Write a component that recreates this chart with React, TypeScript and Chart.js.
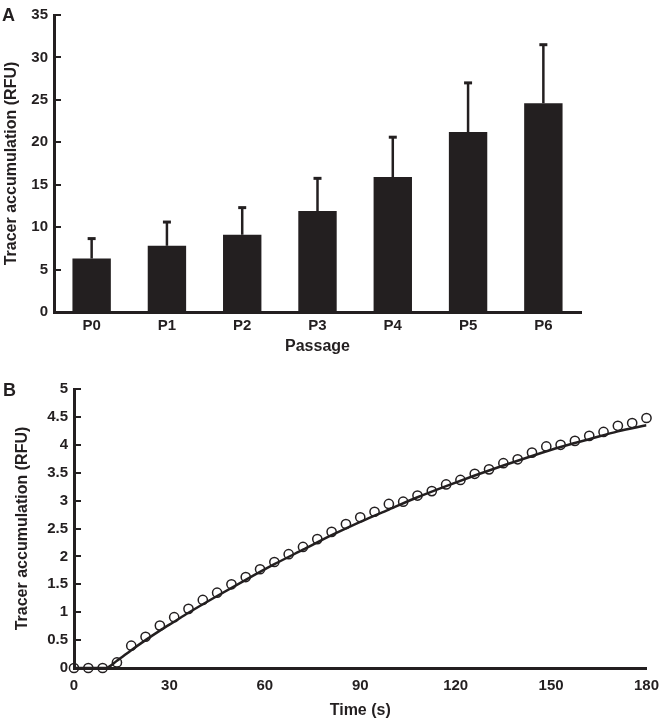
import React, { useEffect, useRef } from "react";
import { Chart, registerables } from "chart.js";

Chart.register(...registerables);

const INK = "#231f20";
const FONT = "'Liberation Sans', Arial, Helvetica, sans-serif";

// Panel A
const passages = ["P0", "P1", "P2", "P3", "P4", "P5", "P6"];
const accumMean = [6.3, 7.8, 9.1, 11.9, 15.9, 21.2, 24.6];
const accumErr = [2.35, 2.8, 3.2, 3.85, 4.7, 5.8, 6.9];
const yTicksA = [0, 5, 10, 15, 20, 25, 30, 35];

// Panel B
const timeS = [0, 4.5, 9, 13.5, 18, 22.5, 27, 31.5, 36, 40.5, 45, 49.5, 54, 58.5, 63, 67.5, 72, 76.5, 81, 85.5, 90, 94.5, 99, 103.5, 108, 112.5, 117, 121.5, 126, 130.5, 135, 139.5, 144, 148.5, 153, 157.5, 162, 166.5, 171, 175.5, 180];
const observed = [0, 0, 0, 0.1, 0.4, 0.56, 0.76, 0.91, 1.06, 1.22, 1.35, 1.5, 1.63, 1.77, 1.9, 2.04, 2.17, 2.31, 2.44, 2.58, 2.7, 2.8, 2.94, 2.98, 3.09, 3.17, 3.29, 3.37, 3.48, 3.56, 3.67, 3.74, 3.86, 3.97, 4.0, 4.07, 4.16, 4.23, 4.34, 4.39, 4.48];
const fitTime = [0, 10, 13.5, 18, 22.5, 27, 31.5, 36, 45, 54, 63, 72, 81, 90, 99, 108, 117, 126, 135, 144, 153, 162, 171, 180];
const fitValue = [0, 0, 0.13, 0.32, 0.5, 0.67, 0.83, 0.99, 1.29, 1.58, 1.86, 2.12, 2.38, 2.62, 2.84, 3.06, 3.26, 3.45, 3.63, 3.8, 3.96, 4.1, 4.24, 4.35];
const yTicksB = [0, 0.5, 1, 1.5, 2, 2.5, 3, 3.5, 4, 4.5, 5];
const xTicksB = [0, 30, 60, 90, 120, 150, 180];

const inwardTicks = {
  id: "inwardTicks",
  afterDraw(chart: any) {
    const y = chart.scales.y;
    const ctx = chart.ctx;
    const left = chart.chartArea.left;
    ctx.save();
    ctx.strokeStyle = INK;
    ctx.lineWidth = 2;
    y.ticks.forEach((t: any) => {
      const py = Math.round(y.getPixelForValue(t.value));
      ctx.beginPath();
      ctx.moveTo(left, py);
      ctx.lineTo(left + 7, py);
      ctx.stroke();
    });
    ctx.restore();
  },
};

const errorBars = {
  id: "errorBars",
  afterDatasetsDraw(chart: any) {
    const meta = chart.getDatasetMeta(0);
    const y = chart.scales.y;
    const ctx = chart.ctx;
    ctx.save();
    ctx.strokeStyle = INK;
    ctx.lineWidth = 2.5;
    meta.data.forEach((bar: any, i: number) => {
      const x = bar.x;
      const yb = y.getPixelForValue(accumMean[i]);
      const yt = y.getPixelForValue(accumMean[i] + accumErr[i]);
      ctx.beginPath();
      ctx.moveTo(x, yb);
      ctx.lineTo(x, yt);
      ctx.stroke();
      ctx.lineWidth = 3;
      ctx.beginPath();
      ctx.moveTo(x - 4, yt);
      ctx.lineTo(x + 4, yt);
      ctx.stroke();
      ctx.lineWidth = 2.5;
    });
    ctx.restore();
  },
};

const tickFont = { family: FONT, size: 15, weight: "bold" as const };
const titleFont = { family: FONT, size: 16, weight: "bold" as const };

export default function App() {
  const refA = useRef<HTMLCanvasElement>(null);
  const refB = useRef<HTMLCanvasElement>(null);

  useEffect(() => {
    const chartA = new Chart(refA.current!, {
      type: "bar",
      data: {
        labels: passages,
        datasets: [
          {
            data: accumMean,
            backgroundColor: INK,
            borderWidth: 0,
            barPercentage: 0.51,
            categoryPercentage: 1,
          },
        ],
      },
      options: {
        animation: false,
        responsive: false,
        devicePixelRatio: 1,
        layout: { padding: { left: 0, right: 87, top: 15, bottom: 2 } },
        plugins: { legend: { display: false }, tooltip: { enabled: false } },
        scales: {
          x: {
            offset: true,
            grid: { display: false, drawTicks: false },
            border: { display: true, color: INK, width: 3 },
            ticks: { color: INK, font: tickFont, padding: 5 },
            title: { display: true, text: "Passage", color: INK, font: titleFont, padding: { top: 4, bottom: 4 } },
            afterFit: (s: any) => { s.height = 48; },
          },
          y: {
            min: 0,
            max: 35,
            afterBuildTicks: (s: any) => { s.ticks = yTicksA.map((v) => ({ value: v })); },
            grid: { display: false, drawTicks: false },
            border: { display: true, color: INK, width: 3 },
            ticks: { color: INK, font: tickFont, padding: 6 },
            title: { display: true, text: "Tracer accumulation (RFU)", color: INK, font: titleFont, padding: { top: 2, bottom: 4 } },
            afterFit: (s: any) => { s.width = 54; },
          },
        },
      },
      plugins: [errorBars, inwardTicks],
    });

    const chartB = new Chart(refB.current!, {
      type: "line",
      data: {
        datasets: [
          {
            data: timeS.map((t, i) => ({ x: t, y: observed[i] })),
            showLine: false,
            pointRadius: 4.6,
            pointBorderWidth: 1.5,
            pointBackgroundColor: "rgba(0,0,0,0)",
            pointBorderColor: INK,
            clip: false as any,
          },
          {
            data: fitTime.map((t, i) => ({ x: t, y: fitValue[i] })),
            borderColor: INK,
            borderWidth: 2.5,
            pointRadius: 0,
            cubicInterpolationMode: "monotone",
          },
        ],
      },
      options: {
        animation: false,
        responsive: false,
        devicePixelRatio: 1,
        layout: { padding: { left: 0, right: 16, top: 29, bottom: 0 } },
        plugins: { legend: { display: false }, tooltip: { enabled: false } },
        scales: {
          x: {
            type: "linear",
            min: 0,
            max: 180,
            afterBuildTicks: (s: any) => { s.ticks = xTicksB.map((v) => ({ value: v })); },
            ticks: { color: INK, font: tickFont, padding: 9, callback: (v: any) => String(v) },
            grid: { display: false, drawTicks: false },
            border: { display: true, color: INK, width: 3 },
            title: { display: true, text: "Time (s)", color: INK, font: titleFont, padding: { top: 4, bottom: 2 } },
            afterFit: (s: any) => { s.height = 54; },
          },
          y: {
            min: 0,
            max: 5,
            afterBuildTicks: (s: any) => { s.ticks = yTicksB.map((v) => ({ value: v })); },
            ticks: { color: INK, font: tickFont, padding: 6, callback: (v: any) => String(v) },
            grid: { display: false, drawTicks: false },
            border: { display: true, color: INK, width: 3 },
            title: { display: true, text: "Tracer accumulation (RFU)", color: INK, font: titleFont, padding: { top: 13, bottom: 4 } },
            afterFit: (s: any) => { s.width = 74; },
          },
        },
      },
      plugins: [inwardTicks],
    });

    return () => {
      chartA.destroy();
      chartB.destroy();
    };
  }, []);

  const panelLabel: React.CSSProperties = {
    position: "absolute",
    fontFamily: FONT,
    fontWeight: "bold",
    fontSize: 18,
    lineHeight: "18px",
    color: INK,
  };

  return (
    <div style={{ position: "absolute", left: 0, top: 0, width: 668, height: 722, background: "#fff", overflow: "hidden" }}>
      <canvas ref={refA} width={668} height={362} style={{ position: "absolute", left: 0, top: 0, width: 668, height: 362 }} />
      <canvas ref={refB} width={668} height={362} style={{ position: "absolute", left: 0, top: 360, width: 668, height: 362 }} />
      <div style={{ ...panelLabel, left: 2, top: 6 }}>A</div>
      <div style={{ ...panelLabel, left: 3, top: 381 }}>B</div>
    </div>
  );
}
